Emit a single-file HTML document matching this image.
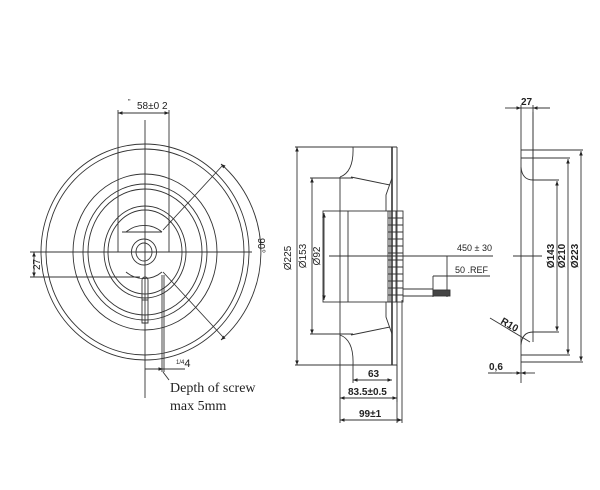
<!DOCTYPE html>
<html><head><meta charset="utf-8"><style>
html,body{margin:0;padding:0;background:#fff;}
svg{display:block;}
text{font-family:"Liberation Sans",sans-serif;fill:#222;}
.s{font-family:"Liberation Serif",serif;}
</style></head><body>
<svg width="600" height="490" viewBox="0 0 600 490" xmlns="http://www.w3.org/2000/svg">
<defs>
<marker id="a" viewBox="0 0 10 10" refX="10" refY="5" markerWidth="6" markerHeight="5" orient="auto-start-reverse"><path d="M0,1 L10,5 L0,9 z" fill="#222"/></marker>
</defs>
<g fill="none" stroke="#333" stroke-width="0.9">
<!-- LEFT VIEW -->
<ellipse cx="145" cy="252" rx="104" ry="108"/>
<ellipse cx="145" cy="252" rx="99" ry="103"/>
<ellipse cx="145" cy="252" rx="72" ry="78"/>
<ellipse cx="145" cy="252" rx="62" ry="68"/>
<ellipse cx="145" cy="252" rx="57" ry="63"/>
<ellipse cx="145" cy="252" rx="41" ry="46"/>
<ellipse cx="145" cy="252" rx="37" ry="42"/>
<ellipse cx="144" cy="252" rx="12.5" ry="13"/>
<ellipse cx="144" cy="252" rx="8" ry="9"/>
<path d="M126,232 A28,28 0 0 1 162,232" />
<path d="M126,272 A28,28 0 0 0 162,272" />
<line x1="122" y1="232" x2="162" y2="232"/>
<line x1="30" y1="252" x2="252" y2="252"/>
<line x1="145" y1="120" x2="145" y2="398"/>
<line x1="118" y1="110" x2="118" y2="252"/>
<line x1="169" y1="110" x2="169" y2="252"/>
<line x1="118" y1="113" x2="169" y2="113" marker-start="url(#a)" marker-end="url(#a)"/>
<line x1="30" y1="277" x2="140" y2="277"/>
<line x1="34" y1="252" x2="34" y2="277" marker-start="url(#a)" marker-end="url(#a)"/>
<path d="M142,323 V280 A3,3 0 0 1 148,280 V323 Z"/>
<line x1="142" y1="300" x2="148" y2="300"/>
<line x1="162" y1="275" x2="162" y2="372"/>
<line x1="164" y1="275" x2="164" y2="372"/>
<line x1="145" y1="369" x2="163" y2="369" marker-end="url(#a)"/>
<line x1="163" y1="369" x2="185" y2="369"/>
<line x1="163" y1="372" x2="169" y2="380"/>
<line x1="163" y1="230" x2="223" y2="165"/>
<line x1="163" y1="272" x2="223" y2="337"/>
<path d="M221,164 A117,117 0 0 1 221,340" marker-start="url(#a)" marker-end="url(#a)"/>
<!-- MIDDLE VIEW -->
<line x1="295" y1="147" x2="397" y2="147"/>
<line x1="295" y1="365" x2="397" y2="365"/>
<line x1="297" y1="147" x2="297" y2="365" marker-start="url(#a)" marker-end="url(#a)"/>
<line x1="392" y1="147" x2="392" y2="365" stroke-width="1.6"/>
<line x1="397" y1="147" x2="397" y2="423"/>
<path d="M353,147 Q354,172 340,177 M353,365 Q354,340 340,335"/>
<line x1="351" y1="177" x2="390" y2="185"/>
<line x1="351" y1="335" x2="390" y2="327"/>
<path d="M392,178 L386,195 V211 M392,334 L386,317 V302"/>
<line x1="310" y1="178" x2="353" y2="178"/>
<line x1="310" y1="334" x2="353" y2="334"/>
<line x1="312" y1="178" x2="312" y2="334" marker-start="url(#a)" marker-end="url(#a)"/>
<line x1="340" y1="177" x2="340" y2="423"/>
<rect x="323" y="211" width="67" height="91"/>
<line x1="324" y1="213" x2="324" y2="300" marker-start="url(#a)" marker-end="url(#a)"/>
<line x1="348" y1="211" x2="348" y2="302"/>
<rect x="388" y="211" width="15" height="91"/>
<line x1="396" y1="211" x2="396" y2="302"/>
<path d="M388,218h15M388,225h15M388,232h15M388,239h15M388,246h15M388,253h15M388,260h15M388,267h15M388,274h15M388,281h15M388,288h15M388,295h15"/>
<line x1="329" y1="256" x2="447" y2="256"/>
<line x1="447" y1="256" x2="447" y2="297"/>
<line x1="447" y1="256" x2="493" y2="256"/>
<line x1="433" y1="276" x2="433" y2="297"/>
<line x1="433" y1="276" x2="490" y2="276"/>
<line x1="403" y1="289" x2="433" y2="289"/>
<line x1="403" y1="296" x2="433" y2="296"/>
<rect x="433" y="290" width="17" height="6" fill="#444"/>
<line x1="353" y1="365" x2="353" y2="383"/>
<line x1="397" y1="365" x2="397" y2="402"/>
<line x1="402" y1="300" x2="402" y2="423"/>
<line x1="353" y1="380" x2="392" y2="380" marker-start="url(#a)" marker-end="url(#a)"/>
<line x1="340" y1="398" x2="397" y2="398" marker-start="url(#a)" marker-end="url(#a)"/>
<line x1="340" y1="420" x2="402" y2="420" marker-start="url(#a)" marker-end="url(#a)"/>
<!-- RIGHT VIEW -->
<line x1="521" y1="105" x2="521" y2="383"/>
<line x1="533" y1="105" x2="533" y2="180"/>
<line x1="533" y1="332" x2="533" y2="342"/>
<line x1="533" y1="112" x2="533" y2="332"/>
<line x1="521" y1="150" x2="583" y2="150"/>
<line x1="521" y1="362" x2="583" y2="362"/>
<line x1="521" y1="158" x2="570" y2="158"/>
<line x1="521" y1="355" x2="570" y2="355"/>
<path d="M521,167 Q522,180 533,180 H559"/>
<path d="M521,345 Q522,332 533,332 H559"/>
<line x1="557" y1="181" x2="557" y2="331" marker-start="url(#a)" marker-end="url(#a)"/>
<line x1="568" y1="159" x2="568" y2="354" marker-start="url(#a)" marker-end="url(#a)"/>
<line x1="581" y1="151" x2="581" y2="361" marker-start="url(#a)" marker-end="url(#a)"/>
<line x1="513" y1="256" x2="542" y2="256"/>
<line x1="505" y1="108" x2="521" y2="108" marker-end="url(#a)"/>
<line x1="550" y1="108" x2="533" y2="108" marker-end="url(#a)"/>
<line x1="521" y1="108" x2="533" y2="108"/>
<line x1="490" y1="318" x2="530" y2="342"/>
<line x1="512" y1="373" x2="521" y2="373" marker-end="url(#a)"/>
<line x1="535" y1="373" x2="521" y2="373" marker-end="url(#a)"/>
<line x1="488" y1="373" x2="512" y2="373"/>
</g>
<!-- texts -->
<text x="137" y="109" font-size="10">58±0 2</text>
<text x="128" y="104" font-size="7">"</text>
<text x="30" y="270" font-size="10" transform="rotate(-90 35 265)">27</text>
<text x="176" y="367" font-size="11"><tspan font-size="6" dy="-3">1/4</tspan><tspan dy="3">4</tspan></text>
<text class="s" x="170" y="392" font-size="14">Depth of screw</text>
<text class="s" x="170" y="410" font-size="14">max 5mm</text>
<text x="0" y="0" font-size="10" transform="translate(258,238) rotate(90)">90°</text>
<text font-size="10" transform="translate(291,258) rotate(-90)" text-anchor="middle">Ø225</text>
<text font-size="10" transform="translate(306,256) rotate(-90)" text-anchor="middle">Ø153</text>
<text font-size="10" transform="translate(320,256) rotate(-90)" text-anchor="middle">Ø92</text>
<text x="457" y="251" font-size="9" fill="#666">450 ± 30</text>
<text x="455" y="273" font-size="9" fill="#666">50 .REF</text>
<text x="368" y="377" font-size="10" font-weight="bold">63</text>
<text x="348" y="395" font-size="10" font-weight="bold">83.5±0.5</text>
<text x="359" y="417" font-size="10" font-weight="bold">99±1</text>
<text x="521" y="105" font-size="10" font-weight="bold">27</text>
<text font-size="10" font-weight="bold" transform="translate(554,256) rotate(-90)" text-anchor="middle">Ø143</text>
<text font-size="10" font-weight="bold" transform="translate(565,256) rotate(-90)" text-anchor="middle">Ø210</text>
<text font-size="10" font-weight="bold" transform="translate(578,256) rotate(-90)" text-anchor="middle">Ø223</text>
<text font-size="10" font-weight="bold" transform="translate(500,323) rotate(30)">R10</text>
<text x="489" y="370" font-size="10" font-weight="bold">0,6</text>
</svg>
</body></html>
